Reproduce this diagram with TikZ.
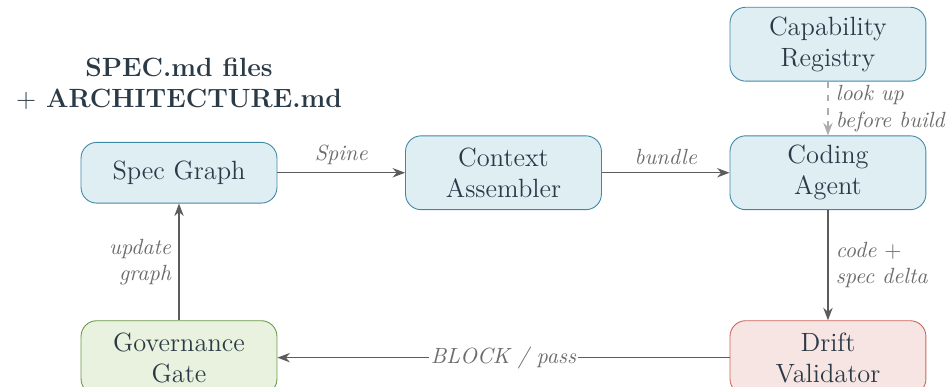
\documentclass[tikz,border=0pt]{standalone}
\usepackage{xcolor}
\usepackage{amsmath}
\usepackage{tikz}
\usetikzlibrary{arrows,arrows.meta,calc}
\usetikzlibrary{positioning,fit}

\definecolor{boxblue}{HTML}{DFEEF3}
\definecolor{lineblue}{HTML}{3F88A6}
\definecolor{boxgreen}{HTML}{E8F2DE}
\definecolor{linegreen}{HTML}{6A9A45}
\definecolor{boxred}{HTML}{F6E5E2}
\definecolor{linered}{HTML}{C9675C}
\definecolor{inkdark}{HTML}{2B3A47}
\definecolor{wiregray}{HTML}{5C5C5C}

\begin{document}
\begin{tikzpicture}[node distance=1.5cm, >={Stealth[length=2mm,width=1.5mm]}]
    \tikzset{
        block/.style={draw, rounded corners=2.5mm, fill=boxblue, draw=lineblue, text=inkdark, font=\large,
                      align=center, minimum width=3.13cm, minimum height=1.18cm},
        wire/.style={->, line width=0.55pt, draw=wiregray},
        tag/.style={font=\itshape, text=wiregray!90, align=left}
    }
    \useasboundingbox (0,0) rectangle (15.13,-6.18);

    % Main row
    \node[block, minimum height=0.97cm] (spec) at (2.86,-2.76) {Spec Graph};
    \node[block, right=2.04cm of spec] (ctx) {Context\\Assembler};
    \node[block, right=2.04cm of ctx] (agent) {Coding\\Agent};

    % Registry above the agent
    \node[block, above=0.86cm of agent] (registry) {Capability\\Registry};

    % Validation loop
    \node[block, fill=boxred, draw=linered, below=1.76cm of agent] (drift) {Drift\\Validator};
    \node[block, fill=boxgreen, draw=linegreen] (gate) at (spec |- drift) {Governance\\Gate};

    % Input files
    \node[font=\large\bfseries, text=inkdark, align=center, above=0.4cm of spec] (files)
        {SPEC.md files\\$+$ ARCHITECTURE.md};

    % Arrows
    \draw[wire] (spec) -- node[tag, above] {Spine} (ctx);
    \draw[wire] (ctx) -- node[tag, above] {bundle} (agent);
    \draw[wire, dashed, draw=wiregray!50] (registry) -- node[tag, right] {look up\\before build} (agent);
    \draw[wire] (agent) -- node[tag, right] {code $+$\\spec delta} (drift);
    \draw[wire] (drift) -- node[tag, fill=white, inner sep=1pt] {BLOCK / pass} (gate);
    \draw[wire] (gate) -- node[tag, left, align=right] {update\\graph} (spec);
\end{tikzpicture}
\end{document}
